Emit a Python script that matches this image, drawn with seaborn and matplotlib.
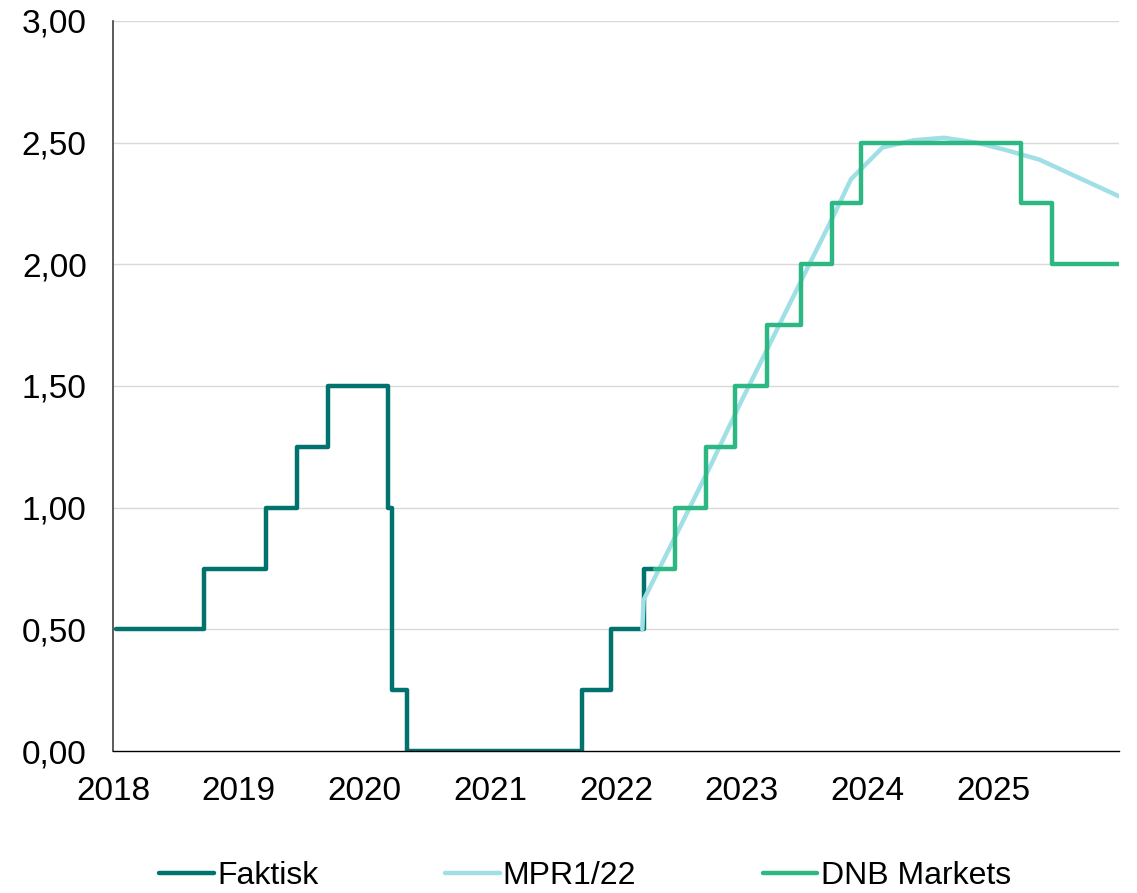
import pandas as pd
import matplotlib.pyplot as plt
import seaborn as sns
from matplotlib.ticker import FuncFormatter

# Policy rate (Norges Bank), decimal years on the x axis
faktisk_x = [2018.02, 2018.72, 2019.22, 2019.46, 2019.71, 2020.19, 2020.22, 2020.34,
             2021.73, 2021.96, 2022.22, 2022.31]
faktisk_y = [0.50, 0.75, 1.00, 1.25, 1.50, 1.00, 0.25, 0.00,
             0.25, 0.50, 0.75, 0.75]

mpr_x = [2022.21, 2022.22, 2022.50, 2022.75, 2023.00, 2023.25, 2023.50, 2023.75,
         2023.87, 2024.12, 2024.37, 2024.61, 2024.87, 2025.10, 2025.37, 2026.00]
mpr_y = [0.50, 0.62, 0.91, 1.17, 1.44, 1.70, 1.96, 2.22,
         2.35, 2.48, 2.51, 2.52, 2.50, 2.47, 2.43, 2.28]

dnb_x = [2022.31, 2022.47, 2022.72, 2022.95, 2023.20, 2023.47, 2023.72, 2023.95,
         2025.22, 2025.47, 2026.00]
dnb_y = [0.75, 1.00, 1.25, 1.50, 1.75, 2.00, 2.25, 2.50,
         2.25, 2.00, 2.00]

years = list(range(2018, 2026))
yticks = [0, 0.5, 1.0, 1.5, 2.0, 2.5, 3.0]

sns.set_style("white")
plt.rcParams['font.family'] = ['Liberation Sans', 'DejaVu Sans']
plt.rcParams['text.color'] = 'black'
plt.rcParams['xtick.color'] = 'black'
plt.rcParams['ytick.color'] = 'black'

fig = plt.figure(figsize=(11.37, 8.93), dpi=100)
ax = fig.add_axes([0.0994, 0.159, 0.8846, 0.8175])

for y in yticks[1:]:
    ax.axhline(y, color='#d9d9d9', lw=1.0, zorder=0)

sns.lineplot(x=faktisk_x, y=faktisk_y, ax=ax, color='#00736f', lw=3.2,
             drawstyle='steps-post', estimator=None, sort=False, label='Faktisk', zorder=2)
sns.lineplot(x=mpr_x, y=mpr_y, ax=ax, color='#a0dfe6', lw=3.2,
             estimator=None, sort=False, label='MPR1/22', zorder=3)
sns.lineplot(x=dnb_x, y=dnb_y, ax=ax, color='#2db783', lw=3.2,
             drawstyle='steps-post', estimator=None, sort=False, label='DNB Markets', zorder=4)

ax.set_xlim(2018, 2026)
ax.set_ylim(0, 3)
ax.set_xticks(years)
ax.set_xticklabels([str(y) for y in years])
ax.set_yticks(yticks)
ax.yaxis.set_major_formatter(FuncFormatter(lambda v, p: f"{v:.2f}".replace('.', ',')))

for s in ['top', 'right']:
    ax.spines[s].set_visible(False)
ax.spines['left'].set_color('#404040')
ax.spines['bottom'].set_color('#000000')
ax.spines['left'].set_linewidth(1.2)
ax.spines['bottom'].set_linewidth(1.0)

ax.tick_params(axis='x', direction='inout', length=14, width=1, labelsize=24, pad=11)
ax.tick_params(axis='y', direction='out', length=7, width=1.2, labelsize=24, pad=12)
ax.set_xlabel('')
ax.set_ylabel('')

handles, labels = ax.get_legend_handles_labels()
ax.get_legend().remove()
fig.legend(handles, labels, loc='lower center', ncol=3, frameon=False, fontsize=23,
           bbox_to_anchor=(0.5145, -0.03), handlelength=1.72, handletextpad=0.1,
           columnspacing=3.95)

fig.savefig('out.png', dpi=100)
